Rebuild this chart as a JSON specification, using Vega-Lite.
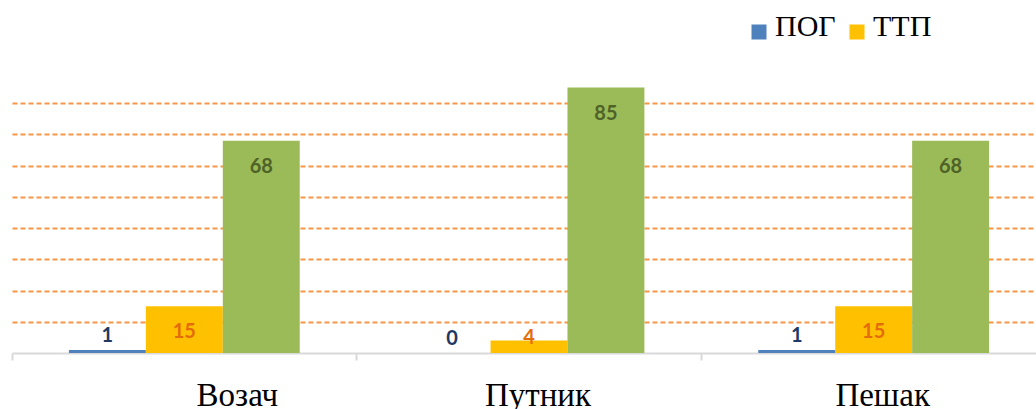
{
  "$schema": "https://vega.github.io/schema/vega-lite/v6.json",
  "autosize": "none",
  "width": 1034,
  "height": 281,
  "padding": {"left": 12, "top": 72, "right": 0, "bottom": 56},
  "background": "white",
  "data": {
    "values": [
      {"cat": "Возач", "series": "ПОГ", "value": 1},
      {"cat": "Возач", "series": "ТТП", "value": 15},
      {"cat": "Возач", "series": "Остало", "value": 68},
      {"cat": "Путник", "series": "ПОГ", "value": 0},
      {"cat": "Путник", "series": "ТТП", "value": 4},
      {"cat": "Путник", "series": "Остало", "value": 85},
      {"cat": "Пешак", "series": "ПОГ", "value": 1},
      {"cat": "Пешак", "series": "ТТП", "value": 15},
      {"cat": "Пешак", "series": "Остало", "value": 68}
    ]
  },
  "encoding": {
    "x": {
      "field": "cat", "type": "nominal", "sort": ["Возач", "Путник", "Пешак"],
      "scale": {"paddingInner": 0, "paddingOuter": 0},
      "axis": {
        "title": null, "labelAngle": 0, "bandPosition": 0,
        "domainColor": "#D9D9D9", "domainWidth": 2,
        "tickColor": "#D9D9D9", "tickWidth": 2, "tickSize": 7,
        "labelFont": "Liberation Serif", "labelFontSize": 33, "labelColor": "#000000",
        "labelPadding": 19, "labelBound": false, "labelOverlap": false,
        "labelOffset": {"condition": {"test": "datum.value === 'Возач'", "value": 53}, "value": 9}
      }
    },
    "xOffset": {
      "field": "series", "type": "nominal", "sort": ["ПОГ", "ТТП", "Остало"],
      "scale": {"paddingInner": 0, "paddingOuter": 0.74}
    },
    "y": {
      "field": "value", "type": "quantitative",
      "scale": {"domain": [0, 90], "nice": false},
      "axis": {
        "title": null, "labels": false, "ticks": false, "domain": false,
        "values": [10, 20, 30, 40, 50, 60, 70, 80],
        "gridColor": "#F79646", "gridWidth": 2, "gridDash": [5, 3], "gridOpacity": 1
      }
    }
  },
  "layer": [
    {
      "mark": {"type": "bar"},
      "encoding": {
        "color": {
          "field": "series", "type": "nominal",
          "scale": {"domain": ["ПОГ", "ТТП", "Остало"], "range": ["#4F81BD", "#FFC000", "#9BBB59"]},
          "legend": {
            "title": null, "orient": "none", "direction": "horizontal",
            "legendX": 732, "legendY": -55, "padding": 0,
            "values": ["ПОГ", "ТТП"],
            "symbolType": "square", "symbolSize": 225, "symbolStrokeWidth": 0, "symbolOpacity": 1,
            "labelFont": "Liberation Serif", "labelFontSize": 30, "labelColor": "#000000",
            "labelOffset": 1, "columnPadding": 6, "labelLimit": 300,
            "encode": {"labels": {"update": {"dy": {"value": -5}}}}
          }
        }
      }
    },
    {
      "transform": [{"filter": "datum.series === 'ПОГ'"}],
      "mark": {"type": "text", "font": "Lato", "fontWeight": "bold", "fontSize": 20, "color": "#1F3864", "baseline": "middle", "dy": -14},
      "encoding": {"text": {"field": "value", "type": "quantitative"}}
    },
    {
      "transform": [{"filter": "datum.series === 'ТТП' && datum.value >= 10"}],
      "mark": {"type": "text", "font": "Lato", "fontWeight": "bold", "fontSize": 20, "color": "#E46C0A", "baseline": "middle", "dy": 26},
      "encoding": {"text": {"field": "value", "type": "quantitative"}}
    },
    {
      "transform": [{"filter": "datum.series === 'ТТП' && datum.value < 10"}],
      "mark": {"type": "text", "font": "Lato", "fontWeight": "bold", "fontSize": 20, "color": "#E46C0A", "baseline": "middle", "dy": -3},
      "encoding": {"text": {"field": "value", "type": "quantitative"}}
    },
    {
      "transform": [{"filter": "datum.series === 'Остало'"}],
      "mark": {"type": "text", "font": "Lato", "fontWeight": "bold", "fontSize": 20, "color": "#4F6228", "baseline": "middle", "dy": 26},
      "encoding": {"text": {"field": "value", "type": "quantitative"}}
    }
  ],
  "config": {"view": {"stroke": null}}
}
